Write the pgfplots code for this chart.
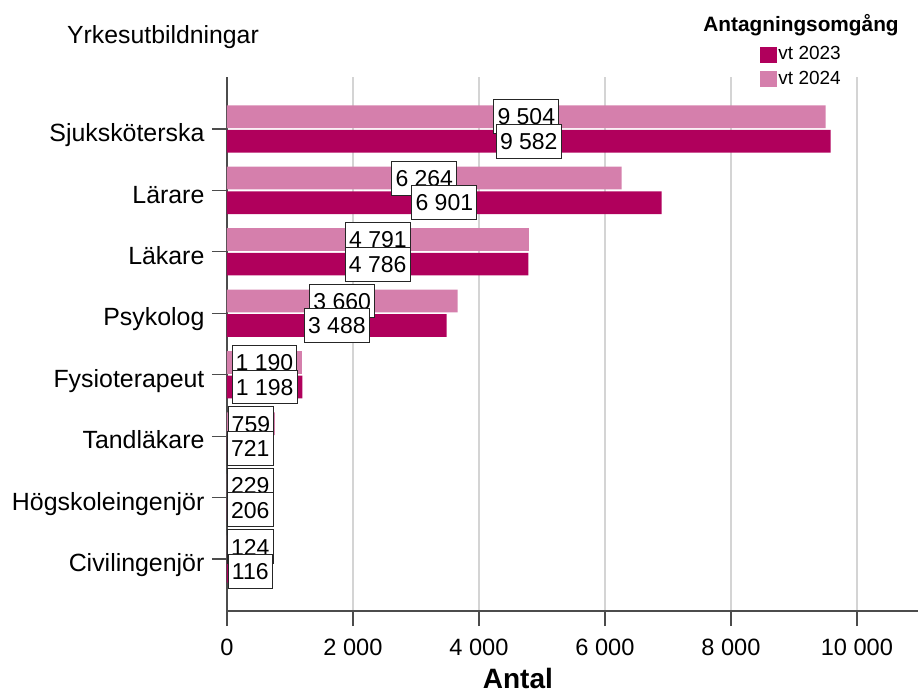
\documentclass[border=0pt]{standalone}
\usepackage{fontspec}
\setmainfont{Liberation Sans}
\usepackage{pgfplots}
\usepackage{pgfplotstable}
\pgfplotsset{compat=1.18}

\definecolor{vtA}{RGB}{176,0,92}    % vt 2023
\definecolor{vtB}{RGB}{213,127,172} % vt 2024

% antagna per yrkesutbildning, pos 7 = top row
\pgfplotstableread{
pos v23 v24
7 9582 9504
6 6901 6264
5 4786 4791
4 3488 3660
3 1198 1190
2 721 759
1 206 229
0 116 124
}\antal

\begin{document}
\begin{tikzpicture}
\begin{axis}[
  scale only axis,
  width=345.5bp, height=267bp,
  xmin=0, xmax=10970,
  ymin=-0.846, ymax=7.846,
  axis x line=bottom, axis y line=left,
  axis line style={-, draw=black!70, line width=0.6bp},
  tick align=outside,
  major tick length=7.5bp,
  tick style={draw=black!70, line width=0.6bp},
  xtick={0,2000,...,10000},
  scaled x ticks=false,
  xmajorgrids,
  grid style={draw=black!17, line width=0.9bp},
  ytick={0,...,7},
  yticklabels={Civilingenjör,Högskoleingenjör,Tandläkare,Fysioterapeut,Psykolog,Läkare,Lärare,Sjuksköterska},
  yticklabel style={font=\fontsize{12.45bp}{14bp}\selectfont, anchor=base east, yshift=-6.3bp, inner xsep=3.6bp},
  xticklabel style={font=\fontsize{11.8bp}{13bp}\selectfont, yshift=-3bp},
  /pgf/number format/1000 sep={\ },
  /pgf/number format/assume math mode=true,
  xlabel={Antal},
  xlabel style={font=\fontsize{14bp}{16bp}\selectfont\bfseries, at={(axis description cs:0.421,0)}, anchor=base, yshift=-38.5bp},
  clip=false,
  legend style={draw=none, fill=none, at={(0.771,1)}, anchor=south west, yshift=-6.3bp,
    inner sep=0pt, row sep=2bp,
    font=\fontsize{9.5bp}{11bp}\selectfont,
    nodes={inner xsep=0.75bp, inner ysep=1bp}},
  legend cell align=left,
]
\addlegendimage{legend image code/.code={\fill[vtA] (0bp,-3.75bp) rectangle (8bp,3.75bp);}}
\addlegendentry{vt 2023}
\addlegendimage{legend image code/.code={\fill[vtB] (0bp,-3.75bp) rectangle (8bp,3.75bp);}}
\addlegendentry{vt 2024}

\addplot[forget plot, xbar, bar width=0.37, bar shift=0.2, fill=vtB, draw=none]
  table[x=v24, y=pos] {\antal};
\addplot[forget plot, xbar, bar width=0.37, bar shift=-0.2, fill=vtA, draw=none]
  table[x=v23, y=pos] {\antal};

\pgfplotsset{lbl/.style={forget plot, draw=none, point meta=explicit, nodes near coords,
  every node near coord/.append style={anchor=center, fill=white, draw=black!85,
    line width=0.5bp, inner xsep=1.8bp, inner ysep=4.3bp, text height=8.3bp, text depth=0bp,
    text=black, font=\fontsize{11.5bp}{13bp}\selectfont}}}
\addplot[lbl] table[x expr={max(\thisrow{v24}/2,370)}, y expr={\thisrow{pos}+0.2}, meta=v24] {\antal};
\addplot[lbl] table[x expr={max(\thisrow{v23}/2,370)}, y expr={\thisrow{pos}-0.2}, meta=v23] {\antal};

\node[font=\fontsize{12.4bp}{14bp}\selectfont, anchor=base]
  at ([yshift=16.5bp]rel axis cs:-0.0926,1) {Yrkesutbildningar};
\node[font=\fontsize{10.4bp}{12bp}\selectfont\bfseries, anchor=base]
  at ([yshift=22.5bp]rel axis cs:0.8307,1) {Antagningsomgång};

\path ([xshift=-113.5bp, yshift=-42bp]rel axis cs:0,0) rectangle ([xshift=0.5bp, yshift=38.5bp]rel axis cs:1,1);
\end{axis}
\end{tikzpicture}
\end{document}
